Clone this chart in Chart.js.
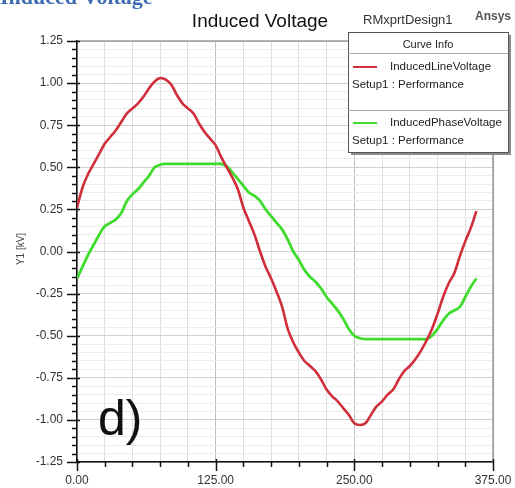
<!DOCTYPE html>
<html>
<head>
<meta charset="utf-8">
<script src="https://cdn.jsdelivr.net/npm/chart.js@4"></script>
<style>
  body { margin: 0; background: #fff; }
  #wrap { width: 515px; height: 488px; }
</style>
</head>
<body>
<div id="wrap"><canvas id="chart" width="515" height="488"></canvas></div>
<script>
// rotor angle [deg]
var angles = [0, 5, 10, 15, 20, 25, 30, 35, 40, 45, 50, 55, 60, 65, 70, 75, 80, 85, 90, 95,
    100, 105, 110, 115, 120, 125, 130, 135, 140, 145, 150, 155, 160, 165, 170, 175, 180, 185, 190, 195,
    200, 205, 210, 215, 220, 225, 230, 235, 240, 245, 250, 255, 260, 265, 270, 275, 280, 285, 290, 295,
    300, 305, 310, 315, 320, 325, 330, 335, 340, 345, 350, 355, 360];

// InducedLineVoltage [kV]
var lineVoltage = [0.26, 0.38, 0.46, 0.52, 0.58, 0.64, 0.68, 0.72, 0.77, 0.82, 0.85, 0.88, 0.92, 0.97, 1.01, 1.03, 1.02, 0.99, 0.93, 0.88,
    0.85, 0.82, 0.76, 0.71, 0.67, 0.63, 0.56, 0.50, 0.44, 0.37, 0.26, 0.18, 0.10, 0.00, -0.09, -0.16, -0.24, -0.33, -0.46, -0.54,
    -0.60, -0.65, -0.68, -0.71, -0.76, -0.82, -0.86, -0.89, -0.93, -0.97, -1.02, -1.03, -1.02, -0.97, -0.92, -0.89, -0.85, -0.82, -0.76, -0.71,
    -0.68, -0.64, -0.59, -0.53, -0.46, -0.37, -0.27, -0.19, -0.13, -0.03, 0.06, 0.14, 0.24];

// InducedPhaseVoltage [kV]
var phaseVoltage = [-0.16, -0.09, -0.02, 0.04, 0.10, 0.15, 0.17, 0.19, 0.23, 0.30, 0.34, 0.37, 0.41, 0.45, 0.50, 0.515, 0.52, 0.52, 0.52, 0.52,
    0.52, 0.52, 0.52, 0.52, 0.52, 0.52, 0.52, 0.505, 0.47, 0.43, 0.39, 0.35, 0.33, 0.30, 0.25, 0.21, 0.17, 0.13, 0.07, 0.00,
    -0.05, -0.11, -0.15, -0.18, -0.22, -0.27, -0.31, -0.35, -0.40, -0.46, -0.50, -0.515, -0.52, -0.52, -0.52, -0.52, -0.52, -0.52, -0.52, -0.52,
    -0.52, -0.52, -0.52, -0.52, -0.50, -0.46, -0.41, -0.37, -0.35, -0.33, -0.27, -0.21, -0.16];

var seriesNames = ['InducedLineVoltage', 'InducedPhaseVoltage'];
var seriesSetup = 'Setup1 : Performance';
var xTickLabels = [0, 125, 250, 375];
var yTickLabels = [1.25, 1.00, 0.75, 0.50, 0.25, 0.00, -0.25, -0.50, -0.75, -1.00, -1.25];

var FONT = "'Liberation Sans', Arial, sans-serif";

function toPoints(vals) {
    return angles.map(function (a, i) { return { x: a, y: vals[i] }; });
}
function isLabelX(v) { return xTickLabels.indexOf(Math.round(v)) >= 0; }
function isLabelY(v) {
    return yTickLabels.some(function (t) { return Math.abs(t - v) < 1e-6; });
}

var overlay = {
    id: 'overlay',
    afterDraw: function (chart) {
        var ctx = chart.ctx;
        var a = chart.chartArea;
        var xs = chart.scales.x, ys = chart.scales.y;
        ctx.save();

        // frame top / right
        ctx.strokeStyle = '#9a9a9a';
        ctx.lineWidth = 1.5;
        ctx.beginPath();
        ctx.moveTo(a.left, a.top); ctx.lineTo(a.right, a.top); ctx.lineTo(a.right, a.bottom);
        ctx.stroke();

        // axis ticks
        ctx.strokeStyle = '#111';
        ctx.lineWidth = 1.5;
        ctx.beginPath();
        ys.ticks.forEach(function (t) {
            var py = Math.round(ys.getPixelForValue(t.value)) + 0.5;
            if (isLabelY(t.value)) { ctx.moveTo(a.left - 10, py); ctx.lineTo(a.left + 3, py); }
            else { ctx.moveTo(a.left - 5, py); ctx.lineTo(a.left, py); }
        });
        xs.ticks.forEach(function (t) {
            var px = Math.round(xs.getPixelForValue(t.value)) + 0.5;
            if (isLabelX(t.value)) { ctx.moveTo(px, a.bottom - 3); ctx.lineTo(px, a.bottom + 9); }
            else { ctx.moveTo(px, a.bottom); ctx.lineTo(px, a.bottom + 5); }
        });
        ctx.stroke();

        // clipped heading at the very top
        ctx.fillStyle = '#3d6db0';
        ctx.font = "bold 22px 'Liberation Serif', serif";
        ctx.textBaseline = 'alphabetic';
        ctx.textAlign = 'left';
        ctx.fillText('Induced Voltage', 0, 4);

        // title
        ctx.fillStyle = '#111';
        ctx.font = '19px ' + FONT;
        ctx.textAlign = 'center';
        ctx.fillText('Induced Voltage', 260, 27);
        ctx.fillStyle = '#333';
        ctx.font = '13px ' + FONT;
        ctx.textAlign = 'left';
        ctx.fillText('RMxprtDesign1', 363, 24);
        ctx.fillStyle = '#555';
        ctx.font = 'bold 12px ' + FONT;
        ctx.fillText('Ansys', 475, 20);

        // y axis title
        ctx.save();
        ctx.translate(21, 249);
        ctx.rotate(-Math.PI / 2);
        ctx.fillStyle = '#444';
        ctx.font = '10px ' + FONT;
        ctx.textAlign = 'center';
        ctx.textBaseline = 'middle';
        ctx.fillText('Y1 [kV]', 0, 0);
        ctx.restore();

        // panel letter
        ctx.fillStyle = '#111';
        ctx.font = '50px ' + FONT;
        ctx.textAlign = 'left';
        ctx.fillText('d)', 98, 435);

        // curve info box
        var bx = 348, by = 32, bw = 160, bh = 120;
        ctx.fillStyle = '#8c8c8c';
        ctx.fillRect(bx + 3, by + 3, bw, bh);
        ctx.fillStyle = '#fff';
        ctx.fillRect(bx, by, bw, bh);
        ctx.strokeStyle = '#555';
        ctx.lineWidth = 1;
        ctx.strokeRect(bx + 0.5, by + 0.5, bw, bh);
        ctx.strokeStyle = '#aaa';
        ctx.beginPath();
        ctx.moveTo(bx, 53.5); ctx.lineTo(bx + bw, 53.5);
        ctx.moveTo(bx, 110.5); ctx.lineTo(bx + bw, 110.5);
        ctx.stroke();

        ctx.fillStyle = '#222';
        ctx.font = '11px ' + FONT;
        ctx.textAlign = 'center';
        ctx.textBaseline = 'middle';
        ctx.fillText('Curve Info', bx + bw / 2, 45);

        ctx.textAlign = 'left';
        var rows = [67, 123];
        chart.data.datasets.forEach(function (ds, i) {
            var ry = rows[i];
            ctx.strokeStyle = ds.borderColor;
            ctx.lineWidth = 2;
            ctx.beginPath();
            ctx.moveTo(353, ry); ctx.lineTo(377, ry);
            ctx.stroke();
            ctx.fillStyle = '#222';
            ctx.font = '11.5px ' + FONT;
            ctx.fillText(ds.label, 390, ry);
            ctx.fillText(seriesSetup, 352, ry + 18);
        });

        ctx.restore();
    }
};

new Chart(document.getElementById('chart'), {
    type: 'line',
    data: {
        datasets: [
            {
                label: seriesNames[0],
                data: toPoints(lineVoltage),
                borderColor: '#cf2e3a',
                borderWidth: 2.6,
                pointRadius: 0,
                tension: 0.35,
                fill: false
            },
            {
                label: seriesNames[1],
                data: toPoints(phaseVoltage),
                borderColor: '#3fdc2e',
                borderWidth: 2.8,
                pointRadius: 0,
                tension: 0.35,
                fill: false
            }
        ]
    },
    options: {
        responsive: false,
        animation: false,
        events: [],
        layout: { padding: { top: 41, right: 22, bottom: 0, left: 0 } },
        plugins: { legend: { display: false }, title: { display: false }, tooltip: { enabled: false } },
        scales: {
            x: {
                type: 'linear',
                min: 0,
                max: 375,
                afterFit: function (s) { s.height = 26; s.paddingLeft = 0; s.paddingRight = 0; },
                border: { display: true, color: '#111', width: 1.5 },
                grid: {
                    drawTicks: false,
                    color: function (c) { return isLabelX(c.tick.value) ? '#bdbdbd' : '#dedede'; }
                },
                ticks: {
                    stepSize: 25,
                    autoSkip: false,
                    maxRotation: 0,
                    padding: 11,
                    color: '#333',
                    font: { family: FONT, size: 12 },
                    callback: function (v) { return isLabelX(v) ? v.toFixed(2) : ''; }
                }
            },
            y: {
                min: -1.25,
                max: 1.25,
                afterFit: function (s) { s.width = 77; s.paddingTop = 0; s.paddingBottom = 0; },
                border: { display: true, color: '#111', width: 1.5 },
                grid: {
                    drawTicks: false,
                    color: function (c) { return isLabelY(c.tick.value) ? '#d0d0d0' : '#ececec'; }
                },
                ticks: {
                    stepSize: 0.05,
                    autoSkip: false,
                    padding: 14,
                    color: '#333',
                    font: { family: FONT, size: 12 },
                    callback: function (v) { return isLabelY(v) ? (Math.round(v * 100) / 100).toFixed(2) : ''; }
                }
            }
        }
    },
    plugins: [overlay]
});
</script>
</body>
</html>
